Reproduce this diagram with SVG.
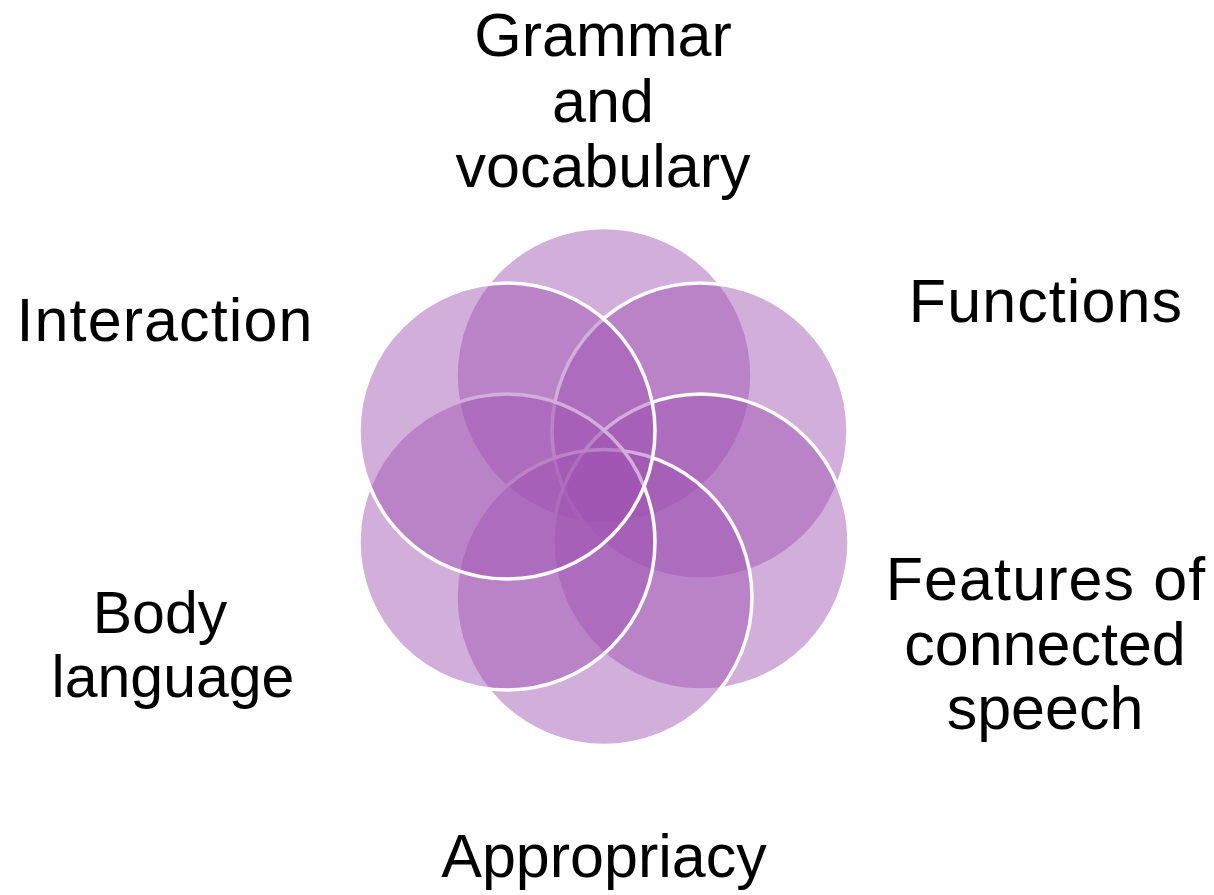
<svg xmlns="http://www.w3.org/2000/svg" width="1214" height="895" viewBox="0 0 1214 895">
  <style>
    .c { fill: rgb(160,82,178); fill-opacity: 0.47; stroke: #ffffff; stroke-width: 3.5; }
    .t { font-family: "Liberation Sans", Arial, sans-serif; font-size: 61px; fill: #000000; text-anchor: middle; }
    .w { letter-spacing: 1.1px; }
    .s { font-size: 59px; }
  </style>
  <rect width="1214" height="895" fill="#ffffff"/>
  <g id="circles">
    <g id="node-grammar-circle"><circle class="c" cx="604" cy="375.5" r="148"/></g>
    <g id="node-functions-circle"><circle class="c" cx="700" cy="431" r="148"/></g>
    <g id="node-features-circle"><circle class="c" cx="701" cy="542" r="148"/></g>
    <g id="node-appropriacy-circle"><circle class="c" cx="604" cy="597.5" r="148"/></g>
    <g id="node-body-circle"><circle class="c" cx="507" cy="542" r="148"/></g>
    <g id="node-interaction-circle"><circle class="c" cx="507" cy="431" r="148"/></g>
  </g>
  <g id="labels">
    <g id="node-grammar">
      <text class="t" x="603" y="56">Grammar</text>
      <text class="t" x="603" y="122">and</text>
      <text class="t" x="603" y="187">vocabulary</text>
    </g>
    <g id="node-interaction"><text class="t w" x="165" y="341">Interaction</text></g>
    <g id="node-functions"><text class="t w" x="1046" y="322">Functions</text></g>
    <g id="node-body">
      <text class="t s" x="160" y="633">Body</text>
      <text class="t s" x="173" y="697">language</text>
    </g>
    <g id="node-features">
      <text class="t w" x="1046" y="600">Features of</text>
      <text class="t" x="1045" y="665">connected</text>
      <text class="t" x="1045" y="729">speech</text>
    </g>
    <g id="node-appropriacy"><text class="t" x="604" y="877">Appropriacy</text></g>
  </g>
  <g id="connectors"></g>
</svg>
